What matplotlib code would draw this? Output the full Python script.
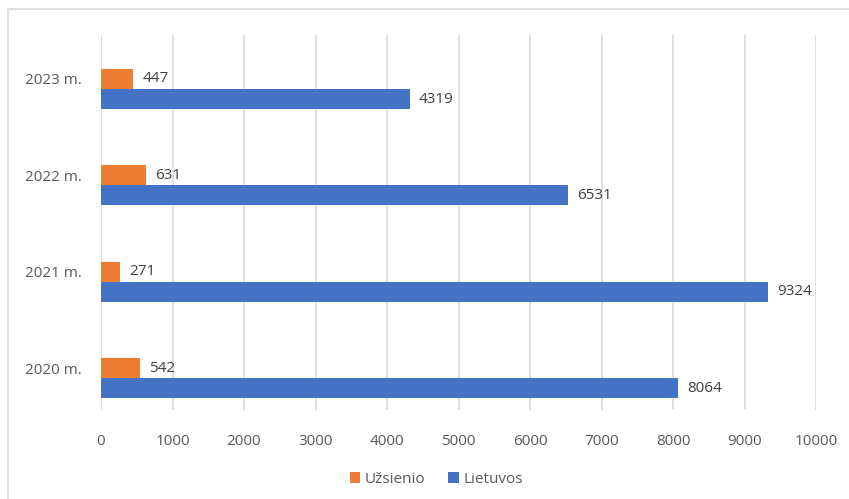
import matplotlib.pyplot as plt
from matplotlib.patches import Rectangle

# data
years = ['2020 m.', '2021 m.', '2022 m.', '2023 m.']
uzsienio = [542, 271, 631, 447]
lietuvos = [8064, 9324, 6531, 4319]

c_orange = '#ED7D31'
c_blue = '#4472C4'
txt = '#595959'

plt.rcParams['font.family'] = ['Open Sans', 'DejaVu Sans']

fig = plt.figure(figsize=(8.49, 4.99), dpi=100)
ax = fig.add_axes([101/849, 1 - 410/499, (816 - 101)/849, (410 - 35)/499])

# chart border (only top/left visible in the crop)
fig.patches.append(Rectangle((8/849, -0.1), 1.2, 1 - 9/499 + 0.1, transform=fig.transFigure,
                             fill=False, edgecolor='#d9d9d9', linewidth=1.2))

h = 0.208
ypos = list(range(len(years)))
y_or = [y + h/2 for y in ypos]
y_bl = [y - h/2 for y in ypos]

b1 = ax.barh(y_or, uzsienio, height=h, color=c_orange, label='Užsienio', zorder=3)
b2 = ax.barh(y_bl, lietuvos, height=h, color=c_blue, label='Lietuvos', zorder=3)

for bars, vals in ((b1, uzsienio), (b2, lietuvos)):
    for r, v in zip(bars, vals):
        ax.text(r.get_width() + 130, r.get_y() + r.get_height()/2, str(v),
                va='center', ha='left', fontsize=11, color='#404040')

ax.set_xlim(0, 10000)
ax.set_ylim(-0.33, 3.56)
ax.set_xticks(range(0, 10001, 1000))
ax.set_yticks(y_or)
ax.set_yticklabels(years)
ax.grid(axis='x', color='#d9d9d9', linewidth=1.2, zorder=0)
for s in ax.spines.values():
    s.set_visible(False)
ax.tick_params(length=0, colors=txt, labelsize=11)
ax.tick_params(axis='x', pad=17)
ax.tick_params(axis='y', pad=14)

ax.legend(loc='center', bbox_to_anchor=(0.469, -0.185), ncol=2, frameon=False,
          fontsize=11, labelcolor=txt, handlelength=0.7, handleheight=0.7,
          handletextpad=0.3, columnspacing=1.5)

fig.savefig('out.png', dpi=100)
